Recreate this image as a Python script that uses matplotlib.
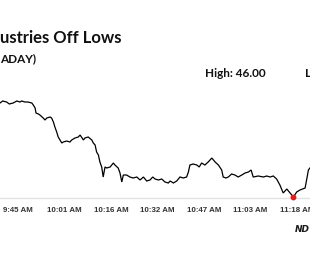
import matplotlib
matplotlib.use("Agg")
import matplotlib.pyplot as plt

# time in minutes since midnight, price values
times = [579.0, 579.9, 581.2, 582.1, 583.4, 584.6, 585.7, 586.2, 587.3, 588.3,
         589.6, 590.1, 590.7, 591.0, 591.8, 592.3, 593.4, 594.0, 594.6, 595.7,
         596.2, 596.8, 597.3, 597.9, 598.4, 599.0, 599.6, 600.1, 601.2, 602.3,
         602.9, 604.0, 605.1, 605.7, 606.8, 607.3, 608.4, 609.6, 610.1, 610.7,
         611.2, 611.8, 612.3, 612.9, 613.4, 614.0, 614.6, 615.7, 616.8, 617.3,
         618.4, 619.0, 619.6, 620.1, 621.2, 622.3, 623.4, 624.6, 625.7, 626.8,
         627.9, 629.0, 629.9, 630.7, 631.8, 632.9, 634.0, 635.1, 635.7, 636.8,
         637.9, 639.0, 640.1, 641.2, 641.8, 642.3, 643.4, 644.6, 645.4, 646.2,
         647.3, 648.4, 649.6, 650.7, 651.8, 652.9, 653.4, 654.3, 655.1, 656.2,
         657.3, 658.4, 659.6, 660.7, 661.8, 662.7, 663.4, 665.1, 666.8, 667.9,
         669.0, 670.1, 671.2, 672.3, 673.4, 674.6, 675.7, 676.8, 677.9, 679.0,
         680.7, 681.2, 681.8, 682.3]
prices = [45.80, 45.90, 45.85, 45.75, 45.80, 45.90, 45.85, 45.90, 45.85, 45.85,
          45.80, 45.70, 45.55, 45.30, 45.25, 45.20, 45.05, 44.95, 45.05, 45.10,
          45.05, 44.85, 44.60, 44.35, 44.10, 43.95, 43.80, 43.85, 43.90, 43.85,
          43.95, 44.05, 44.10, 44.20, 43.95, 44.05, 44.10, 43.95, 43.80, 43.70,
          43.35, 43.20, 42.85, 42.60, 42.10, 42.60, 42.55, 42.60, 42.80, 42.70,
          42.55, 42.30, 41.85, 42.20, 42.20, 42.10, 42.05, 42.10, 41.95, 42.10,
          41.90, 41.95, 42.10, 42.00, 41.95, 42.00, 41.85, 41.80, 41.90, 41.80,
          41.90, 42.10, 42.05, 42.10, 42.35, 42.70, 42.75, 42.70, 42.60, 42.80,
          42.70, 42.85, 43.05, 42.85, 42.70, 42.45, 42.10, 42.05, 42.10, 42.25,
          42.20, 42.10, 42.20, 42.30, 42.35, 42.45, 42.10, 42.15, 42.10, 42.15,
          42.10, 42.15, 42.00, 41.70, 41.30, 41.50, 41.30, 41.10, 41.35, 41.45,
          41.55, 41.95, 42.45, 42.55]
low_time = 676.8
low_price = 41.10

tick_pos = [585, 600.5, 616, 631.5, 647, 662.5, 678]
tick_labels = ["9:45 AM", "10:01 AM", "10:16 AM", "10:32 AM", "10:47 AM",
               "11:03 AM", "11:18 AM"]

title_text = "ustries Off Lows"
subtitle_text = "ADAY)"
high_text = "High: 46.00"
low_text = "L"
logo_text = "ND"

W, H = 310, 280
fig = plt.figure(figsize=(W / 100, H / 100), dpi=100)
fig.patch.set_facecolor("white")

ax = fig.add_axes([0, (H - 198) / H, 1, (198 - 60) / H])
ax.plot(times, prices, color="black", lw=0.9, solid_joinstyle="miter")
ax.plot([low_time], [low_price], "o", color="#e02020", ms=3.2, clip_on=False, zorder=5)
ax.set_xlim(579, 579 + W / 3)
ax.set_ylim(41.05, 47.95)

for s in ["top", "right", "left"]:
    ax.spines[s].set_visible(False)
ax.spines["bottom"].set_color("#e2e2e2")
ax.spines["bottom"].set_linewidth(1.0)
ax.set_yticks([])
ax.set_xticks(tick_pos)
ax.set_xticklabels(tick_labels, fontsize=5.7, fontweight="bold", color="#333333",
                   family="Liberation Sans")
ax.tick_params(axis="x", length=0, pad=6.5)

def px(x, y):
    return x / W, 1 - y / H

fig.text(*px(0, 43), title_text, family="Lato", fontweight="bold", fontsize=12,
         color="#111111", ha="left", va="baseline")
fig.text(*px(0, 62), subtitle_text, family="Lato", fontweight="bold", fontsize=8.5,
         color="#111111", ha="left", va="baseline")
fig.text(*px(205, 77), high_text, family="Lato", fontweight="bold", fontsize=8.5,
         color="#111111", ha="left", va="baseline")
fig.text(*px(304.5, 77), low_text, family="Lato", fontweight="bold", fontsize=8.5,
         color="#111111", ha="left", va="baseline")
fig.text(*px(295, 232), logo_text, family="DejaVu Sans", fontweight="bold",
         style="italic", fontsize=6.5, color="#1a1a1a", ha="left", va="baseline")

fig.savefig("out.png", dpi=100, facecolor="white")
